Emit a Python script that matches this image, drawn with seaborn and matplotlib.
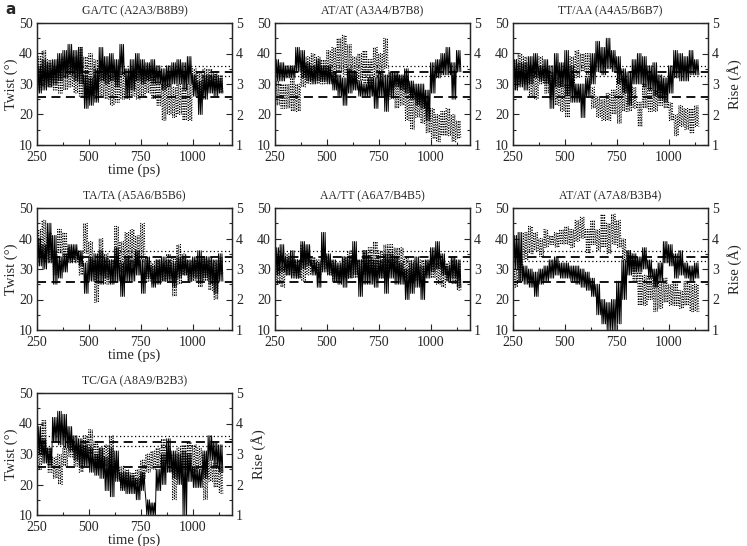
import numpy as np
import matplotlib
matplotlib.use("Agg")
import matplotlib.pyplot as plt
import seaborn as sns
from matplotlib.ticker import MultipleLocator

# window start times (ps); each window gives a local max and a local min
t_win = np.arange(250, 1126, 25)

titles = ["GA/TC (A2A3/B8B9)", "AT/AT (A3A4/B7B8)", "TT/AA (A4A5/B6B7)",
          "TA/TA (A5A6/B5B6)", "AA/TT (A6A7/B4B5)", "AT/AT (A7A8/B3B4)",
          "TC/GA (A8A9/B2B3)"]

# twist (deg)
p1_twist_hi = [36, 38, 37, 38, 40, 41, 43, 41, 42, 33, 32, 35, 42, 39, 40, 38, 43, 35,
               38, 40, 38, 37, 38, 36, 35, 36, 37, 38, 37, 39, 33, 31, 33, 33, 33, 32]
p1_twist_lo = [27, 28, 29, 30, 31, 32, 33, 31, 30, 22, 23, 24, 31, 30, 31, 29, 33, 26,
               28, 31, 30, 31, 30, 30, 28, 29, 30, 30, 28, 30, 26, 20, 25, 27, 26, 27]
p2_twist_hi = [38, 37, 36, 36, 42, 41, 37, 36, 38, 36, 36, 34, 33, 32, 35, 34, 31, 30,
               32, 32, 34, 33, 34, 34, 33, 35, 31, 30, 30, 28, 37, 38, 40, 42, 37, 41]
p2_twist_lo = [31, 31, 32, 32, 34, 32, 31, 30, 31, 31, 30, 28, 26, 23, 27, 28, 26, 26,
               26, 22, 26, 21, 26, 29, 28, 27, 25, 23, 22, 18, 27, 32, 33, 33, 25, 34]
p3_twist_hi = [38, 37, 37, 39, 40, 36, 38, 36, 40, 37, 41, 36, 30, 30, 32, 40, 44, 42,
               45, 41, 39, 35, 34, 38, 40, 39, 36, 37, 33, 32, 36, 41, 40, 39, 41, 38]
p3_twist_lo = [28, 29, 28, 30, 32, 31, 30, 22, 29, 29, 26, 24, 24, 19, 26, 30, 34, 33,
               35, 34, 30, 27, 23, 30, 30, 29, 28, 26, 25, 24, 27, 32, 31, 31, 33, 33]
p4_twist_hi = [40, 38, 45, 41, 34, 35, 38, 38, 36, 32, 34, 35, 36, 34, 33, 37, 32, 34,
               33, 36, 33, 34, 31, 33, 34, 33, 32, 34, 34, 33, 34, 36, 34, 34, 33, 35]
p4_twist_lo = [31, 30, 32, 25, 27, 29, 32, 33, 31, 22, 26, 26, 25, 27, 25, 26, 21, 26,
               26, 28, 22, 27, 24, 25, 26, 26, 24, 27, 28, 26, 27, 26, 27, 25, 22, 26]
p5_twist_hi = [37, 38, 34, 36, 33, 39, 38, 33, 32, 42, 35, 33, 32, 34, 34, 39, 33, 36,
               34, 33, 33, 35, 35, 34, 32, 30, 32, 34, 31, 33, 37, 39, 35, 31, 34, 33]
p5_twist_lo = [28, 29, 28, 27, 27, 30, 31, 28, 24, 29, 28, 26, 25, 24, 27, 28, 21, 25,
               25, 24, 27, 22, 27, 25, 25, 20, 22, 24, 20, 27, 29, 30, 28, 26, 27, 24]
p6_twist_hi = [41, 42, 31, 30, 29, 30, 31, 33, 34, 32, 32, 31, 31, 30, 29, 27, 25, 20,
               19, 20, 26, 33, 36, 35, 34, 37, 33, 30, 32, 39, 38, 35, 36, 32, 31, 32]
p6_twist_lo = [30, 26, 25, 24, 21, 25, 26, 27, 28, 27, 27, 26, 25, 24, 23, 21, 15, 12,
               10, 10, 12, 20, 28, 29, 29, 30, 27, 24, 26, 32, 31, 27, 28, 27, 26, 27]
p7_twist_hi = [39, 35, 32, 42, 44, 43, 39, 36, 35, 33, 32, 30, 32, 29, 32, 31, 24, 24,
               23, 22, 24, 15, 14, 25, 30, 35, 31, 30, 31, 30, 26, 25, 31, 36, 34, 33]
p7_twist_lo = [30, 27, 26, 34, 33, 32, 31, 28, 26, 26, 24, 23, 22, 18, 16, 21, 18, 17,
               17, 15, 18, 10, 10, 18, 20, 24, 22, 20, 10, 21, 19, 19, 22, 28, 26, 24]

# rise (A)
p1_rise_hi = [3.9, 4.1, 3.8, 3.6, 3.8, 3.9, 3.8, 3.9, 4.2, 3.9, 4.0, 3.8, 3.6, 3.4, 3.3, 3.5, 3.4, 3.2,
              3.5, 3.4, 3.5, 3.4, 3.3, 3.1, 3.0, 3.0, 2.9, 3.0, 2.9, 3.0, 3.5, 3.4, 3.5, 3.5, 3.4, 3.3]
p1_rise_lo = [2.8, 2.9, 2.9, 2.8, 2.7, 2.8, 2.9, 2.7, 2.6, 2.5, 2.6, 2.5, 2.6, 2.5, 2.3, 2.4, 2.5, 2.5,
              2.6, 2.5, 2.6, 2.7, 2.5, 2.3, 1.8, 2.0, 1.9, 2.0, 1.8, 1.8, 2.8, 2.7, 2.8, 2.9, 2.8, 2.7]
p2_rise_hi = [3.1, 3.0, 3.0, 3.2, 3.0, 3.6, 3.9, 4.0, 3.9, 3.8, 4.1, 4.2, 4.5, 4.6, 4.3, 3.9, 4.0, 4.1,
              3.8, 4.2, 4.0, 4.5, 3.4, 3.3, 3.2, 3.0, 2.9, 2.6, 2.7, 2.6, 2.2, 2.0, 2.1, 2.2, 2.0, 1.8]
p2_rise_lo = [2.3, 2.2, 2.2, 2.1, 2.1, 2.9, 3.0, 3.1, 3.0, 3.0, 3.2, 3.2, 3.4, 3.3, 3.2, 3.0, 3.1, 3.0,
              3.0, 3.2, 3.3, 3.5, 2.5, 2.2, 2.3, 1.8, 1.5, 1.9, 1.7, 1.4, 1.2, 1.1, 1.3, 1.3, 1.1, 1.2]
p3_rise_hi = [3.8, 4.0, 3.9, 3.6, 3.5, 3.9, 3.5, 3.4, 3.2, 3.1, 3.0, 3.9, 4.1, 4.0, 4.0, 2.9, 2.6, 2.5,
              2.7, 2.8, 3.2, 3.0, 2.6, 2.9, 2.4, 3.0, 2.9, 2.8, 3.1, 3.0, 2.4, 2.0, 2.3, 2.2, 2.2, 2.3]
p3_rise_lo = [2.8, 3.0, 3.0, 2.6, 2.5, 3.0, 2.7, 2.5, 2.3, 2.1, 1.9, 3.0, 3.2, 3.4, 3.2, 2.2, 1.9, 1.8,
              1.8, 2.0, 1.7, 2.1, 2.1, 2.2, 1.6, 2.2, 2.1, 2.1, 2.3, 2.2, 1.8, 1.3, 1.6, 1.5, 1.4, 1.6]
p4_rise_hi = [4.3, 4.6, 4.2, 3.6, 4.3, 4.2, 3.7, 3.6, 3.4, 4.5, 3.9, 3.3, 4.0, 3.5, 3.3, 4.4, 3.9, 4.2,
              4.3, 4.1, 4.5, 3.4, 3.2, 3.3, 3.2, 3.5, 3.4, 3.8, 3.5, 3.2, 3.3, 3.2, 3.4, 3.3, 3.2, 3.4]
p4_rise_lo = [3.3, 3.4, 3.3, 2.8, 3.5, 3.4, 3.3, 3.2, 2.8, 3.5, 3.0, 1.9, 2.8, 2.5, 2.6, 3.1, 2.9, 3.0,
              3.1, 3.2, 3.3, 2.6, 2.5, 2.6, 2.6, 2.7, 2.1, 2.5, 2.8, 2.6, 2.6, 2.4, 2.6, 2.3, 2.0, 2.8]
p5_rise_hi = [3.2, 3.1, 3.5, 3.3, 3.3, 3.8, 3.5, 3.4, 3.3, 3.5, 3.4, 3.2, 3.1, 3.4, 3.6, 3.5, 3.3, 3.6,
              3.7, 3.9, 3.6, 3.8, 3.8, 3.7, 3.7, 3.4, 3.3, 3.2, 3.3, 3.2, 3.3, 3.2, 3.3, 3.2, 3.3, 3.2]
p5_rise_lo = [2.5, 2.4, 2.8, 2.8, 2.7, 2.6, 2.8, 2.9, 2.8, 3.0, 2.8, 2.6, 2.6, 2.7, 2.7, 2.7, 2.6, 2.8,
              2.9, 2.8, 2.7, 3.0, 3.0, 2.9, 2.8, 2.7, 2.6, 2.6, 2.7, 2.8, 2.7, 2.5, 2.4, 2.6, 2.5, 2.3]
p6_rise_hi = [3.0, 3.4, 4.2, 4.4, 4.2, 4.0, 4.3, 4.1, 4.2, 4.3, 4.4, 4.3, 4.6, 4.7, 4.3, 4.6, 4.3, 4.8,
              4.5, 4.8, 4.6, 4.0, 3.6, 3.4, 2.9, 2.8, 2.8, 2.7, 2.6, 2.7, 2.5, 2.6, 2.3, 2.6, 2.5, 2.5]
p6_rise_lo = [2.4, 2.6, 3.3, 3.5, 3.6, 3.4, 3.7, 3.8, 3.7, 3.8, 3.8, 3.7, 3.9, 4.0, 3.5, 3.8, 3.6, 3.7,
              3.5, 3.8, 3.7, 3.3, 3.1, 2.6, 1.8, 1.8, 2.0, 1.6, 1.7, 1.9, 1.8, 1.8, 1.7, 1.8, 1.6, 1.6]
p7_rise_hi = [3.4, 4.1, 3.2, 2.9, 3.0, 3.2, 3.4, 3.2, 3.3, 3.6, 3.8, 3.4, 3.2, 3.3, 3.6, 2.8, 2.6, 2.5,
              2.4, 2.5, 2.8, 3.0, 3.1, 3.2, 3.5, 3.2, 3.0, 3.2, 3.3, 3.4, 3.3, 3.2, 3.0, 2.8, 2.7, 2.6]
p7_rise_lo = [2.5, 3.0, 2.4, 2.2, 2.0, 2.6, 2.9, 2.6, 2.4, 3.0, 3.0, 2.6, 2.5, 2.6, 2.6, 2.2, 1.9, 1.9,
              1.9, 2.0, 2.2, 2.4, 2.5, 2.6, 2.7, 2.4, 1.5, 2.2, 2.5, 2.6, 2.4, 2.5, 1.5, 2.1, 1.9, 1.7]

twist_hi = [p1_twist_hi, p2_twist_hi, p3_twist_hi, p4_twist_hi, p5_twist_hi, p6_twist_hi, p7_twist_hi]
twist_lo = [p1_twist_lo, p2_twist_lo, p3_twist_lo, p4_twist_lo, p5_twist_lo, p6_twist_lo, p7_twist_lo]
rise_hi = [p1_rise_hi, p2_rise_hi, p3_rise_hi, p4_rise_hi, p5_rise_hi, p6_rise_hi, p7_rise_hi]
rise_lo = [p1_rise_lo, p2_rise_lo, p3_rise_lo, p4_rise_lo, p5_rise_lo, p6_rise_lo, p7_rise_lo]

# reference values: twist (dotted) and rise (dashed, on the twist scale x10)
twist_refs = [36.0, 32.7]
rise_refs = [3.38, 2.56]

sns.set_theme(style="ticks")
plt.rcParams['font.family'] = ['Liberation Serif', 'DejaVu Serif']
plt.rcParams['xtick.direction'] = 'in'
plt.rcParams['ytick.direction'] = 'in'
plt.rcParams['axes.linewidth'] = 0.9

W, H = 747, 546
fig = plt.figure(figsize=(W / 100, H / 100), dpi=100)

col_x = [37, 275, 513]
row_y = [23, 208, 393]
ax_w, ax_h = 195, 122


def zigzag(hi, lo, reps=3):
    # the traces swing between local max and min several times per window
    k = np.arange(2 * reps)
    x = (t_win[:, None] + k[None, :] * 25 / (2 * reps)).ravel()
    y = np.where(k[None, :] % 2 == 0, np.asarray(hi)[:, None], np.asarray(lo)[:, None]).ravel()
    return x, y


for i, title in enumerate(titles):
    r, c = divmod(i, 3)
    rect = [col_x[c] / W, 1 - (row_y[r] + ax_h) / H, ax_w / W, ax_h / H]
    ax = fig.add_axes(rect)
    ax2 = ax.twinx()

    for v in twist_refs:
        ax.axhline(v, color='black', lw=0.9, ls=(0, (1, 2)), zorder=1)
    for v in rise_refs:
        ax.axhline(v * 10, color='black', lw=1.3, ls=(0, (5, 3)), zorder=1)

    x, y = zigzag(twist_hi[i], twist_lo[i])
    sns.lineplot(x=x, y=y, ax=ax, color='black', lw=0.7, estimator=None, sort=False, zorder=3)
    x, y = zigzag(rise_hi[i], rise_lo[i])
    sns.lineplot(x=x, y=y, ax=ax2, color='black', lw=0.7, linestyle=':', estimator=None, sort=False)

    ax.set_xlim(250, 1190)
    ax.set_ylim(10, 50)
    ax2.set_ylim(1, 5)
    ax.xaxis.set_major_locator(MultipleLocator(250))
    ax.xaxis.set_minor_locator(MultipleLocator(125))
    ax.yaxis.set_major_locator(MultipleLocator(10))
    ax.yaxis.set_minor_locator(MultipleLocator(5))
    ax2.yaxis.set_major_locator(MultipleLocator(1))
    ax2.yaxis.set_minor_locator(MultipleLocator(0.5))
    for a in (ax, ax2):
        a.tick_params(which='major', length=4, width=0.8, labelsize=10, pad=3)
        a.tick_params(which='minor', length=2, width=0.8)
    ax.tick_params(axis='x', pad=4)
    ax.set_title(title, fontsize=8.5, pad=6)

    ax.set_ylabel("Twist (°)" if c == 0 else "", fontsize=10.5, labelpad=1)
    ax.set_xlabel("time (ps)" if c == 0 else "", fontsize=10.5, labelpad=0)
    ax2.set_ylabel("Rise (Å)" if (c == 2 or i == 6) else "", fontsize=10.5, labelpad=6)

fig.text(5 / W, 1 - 10 / H, "a", fontsize=11, fontweight='bold', family='DejaVu Sans', va='center')

fig.savefig("out.png", dpi=100)
